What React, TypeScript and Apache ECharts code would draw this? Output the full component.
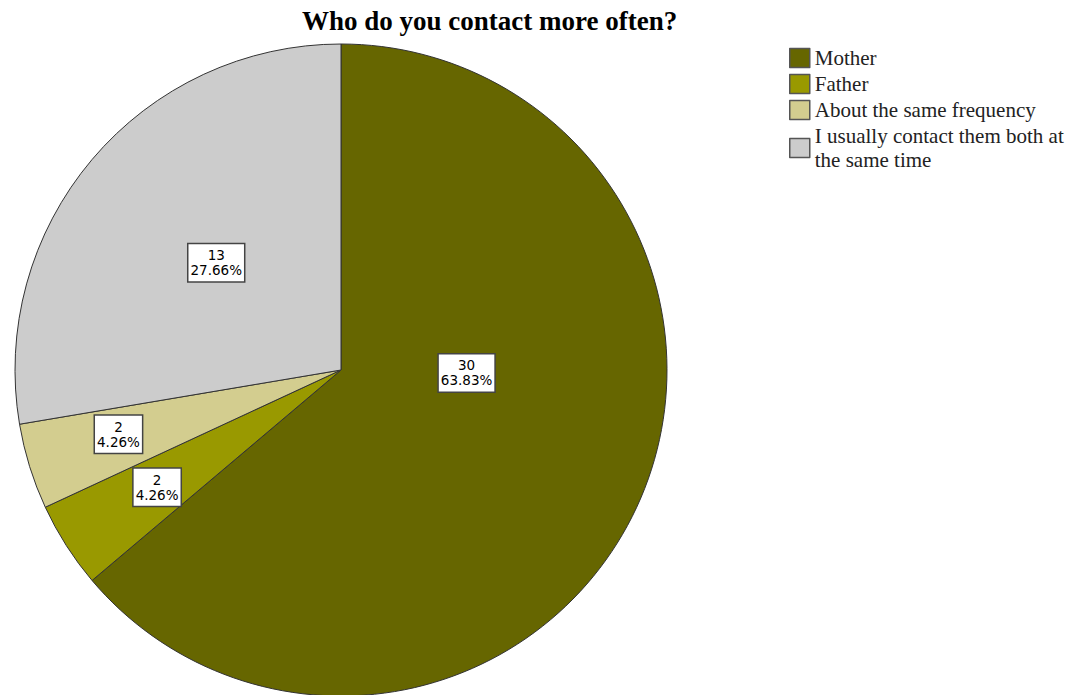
import React, { useEffect, useRef } from "react";
import * as echarts from "echarts";

const categories = [
  "Mother",
  "Father",
  "About the same frequency",
  "I usually contact them both at the same time",
];
const counts = [30, 2, 2, 13];
const colors = ["#666600", "#999900", "#d3cd8f", "#cccccc"];
const titleText = "Who do you contact more often?";

// label nudges away from the default inside position (layout only)
const labelShift: [number, number][] = [
  [-25, -67],
  [-44, 28],
  [-64, 15],
  [2, 0],
];

export default function App() {
  const ref = useRef<HTMLDivElement>(null);
  useEffect(() => {
    if (!ref.current) return;
    const chart = echarts.init(ref.current, undefined, { renderer: "svg" });
    const total = counts.reduce((a, b) => a + b, 0);
    chart.setOption({
      animation: false,
      backgroundColor: "#ffffff",
      title: {
        text: titleText,
        left: 297,
        top: 2,
        textStyle: {
          fontFamily: "Liberation Serif",
          fontWeight: "bold",
          fontSize: 27,
          color: "#000",
        },
      },
      legend: {
        orient: "vertical",
        left: 789,
        top: 46,
        padding: 0,
        itemWidth: 20,
        itemHeight: 19,
        itemGap: 2,
        icon: "rect",
        formatter: (name: string) =>
          name === categories[3] ? "I usually contact them both at\nthe same time" : name,
        textStyle: {
          fontFamily: "Liberation Serif",
          fontSize: 21,
          color: "#222",
          lineHeight: 24,
        },
        itemStyle: { borderColor: "#555", borderWidth: 1.5 },
      },
      series: [
        {
          type: "pie",
          center: [341, 370],
          radius: 326,
          startAngle: 90,
          clockwise: true,
          avoidLabelOverlap: false,
          itemStyle: { borderColor: "#333", borderWidth: 1 },
          emphasis: { disabled: true },
          label: {
            show: true,
            position: "inside",
            formatter: (p: any) =>
              `${p.value}\n${((p.value / total) * 100).toFixed(2)}%`,
            fontFamily: "DejaVu Sans",
            fontSize: 13.5,
            lineHeight: 15,
            color: "#000",
            backgroundColor: "#fff",
            borderColor: "#444",
            borderWidth: 1.5,
            padding: [4, 2, 3, 2],
            align: "center",
          },
          labelLine: { show: false },
          labelLayout: (params: any) => {
            const s = labelShift[params.dataIndex] || [0, 0];
            return { dx: s[0], dy: s[1] };
          },
          data: categories.map((c, i) => ({
            name: c,
            value: counts[i],
            itemStyle: { color: colors[i] },
          })),
        },
      ],
    });
    return () => chart.dispose();
  }, []);
  return (
    <div
      ref={ref}
      style={{ position: "fixed", left: 0, top: 0, width: 1073, height: 695 }}
    />
  );
}
